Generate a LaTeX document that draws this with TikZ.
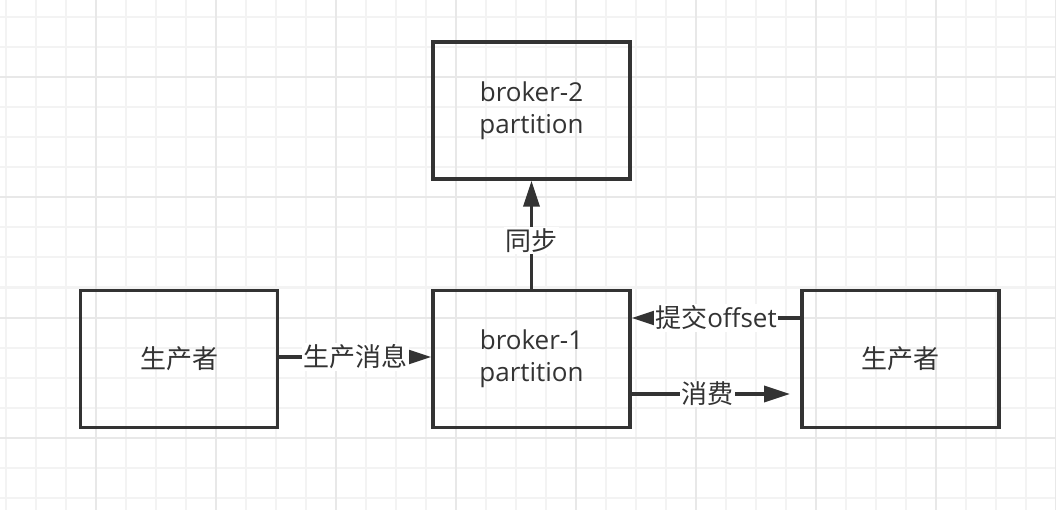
\documentclass[tikz,border=0pt]{standalone}
\usepackage{fontspec}
\setmainfont{Open Sans}
\newfontfamily\cjk{Noto Sans CJK SC}
\usetikzlibrary{arrows.meta,positioning}
\definecolor{tinta}{HTML}{333333}
\definecolor{grade}{HTML}{F3F3F3}
\definecolor{gradeforte}{HTML}{E8E8E8}

\begin{document}
\begin{tikzpicture}[x=1pt,y=-1pt,
  caixa/.style={draw=tinta, line width=3.5pt, minimum width=197pt, minimum height=137pt, inner sep=0pt, align=center, text=tinta, font=\fontsize{26}{32}\selectfont},
  seta/.style={-{Triangle[length=26pt,width=16pt]}, line width=3.5pt, draw=tinta},
  rotulo/.style={fill=white, text=tinta, inner sep=1.5pt, font=\fontsize{26}{30}\selectfont}]
\useasboundingbox (0,0) rectangle (1056,510);
% grade de fundo
\fill[white] (0,0) rectangle (1056,510);
\foreach \x in {6,36,...,1056} \draw[grade, line width=2pt] (\x,0) -- (\x,510);
\foreach \y in {17.5,47.5,...,510} \draw[grade, line width=2pt] (0,\y) -- (1056,\y);
\foreach \x in {96,216,...,1056} \draw[gradeforte, line width=2pt] (\x,0) -- (\x,510);
\foreach \y in {77.5,197.5,...,510} \draw[gradeforte, line width=2pt] (0,\y) -- (1056,\y);
% caixas
\node[caixa] (b2) at (531.5,110.5) {broker-2\\partition};
\node[caixa] (b1) at (531.5,359) {broker-1\\partition};
\node[caixa] (prod) at (179,359) {\cjk 生产者};
\node[caixa] (cons) at (900.5,359) {\cjk 生产者};
\coordinate (fim) at (790,394);
% setas
\draw[seta] (b1.north) -- node[rotulo, pos=0.45] {\cjk 同步} (b2.south);
\draw[seta] (prod.east |- 0,357) -- node[rotulo] {\cjk 生产消息} (b1.west |- 0,357);
\draw[seta] (cons.west |- 0,318) -- node[rotulo] {{\cjk 提交}offset} (b1.east |- 0,318);
\draw[seta] (b1.east |- fim) -- node[rotulo, pos=0.48] {\cjk 消费} (fim);
\end{tikzpicture}
\end{document}
